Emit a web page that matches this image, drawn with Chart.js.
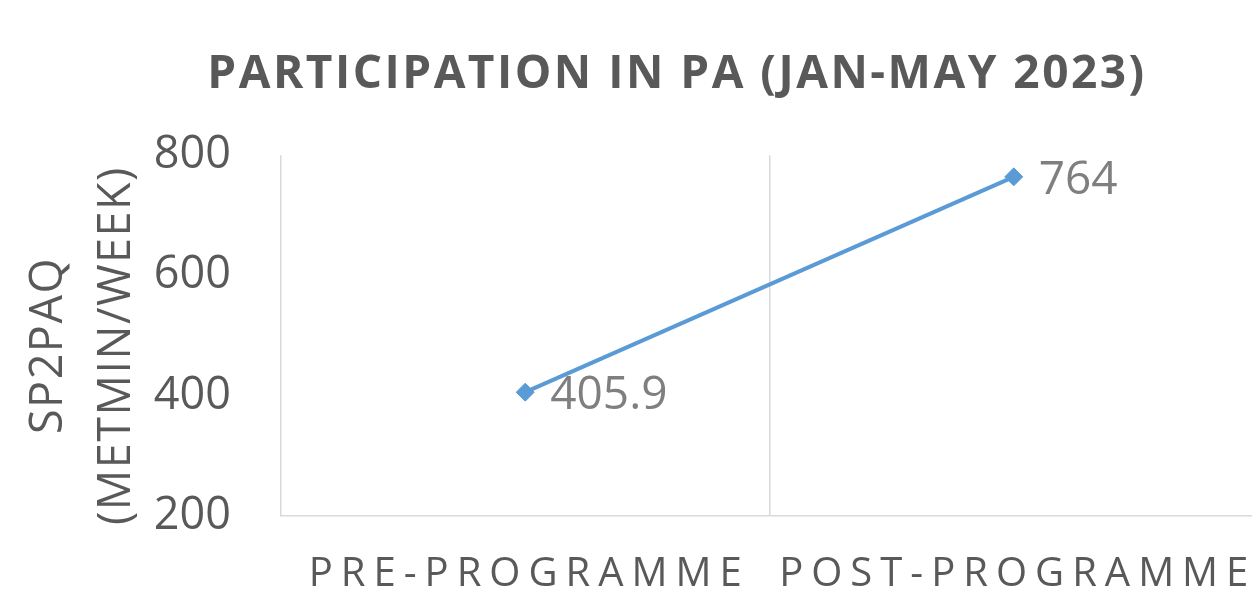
<!DOCTYPE html>
<html>
<head>
<meta charset="utf-8">
<script src="https://cdn.jsdelivr.net/npm/chart.js@4"></script>
<style>
html,body{margin:0;padding:0;background:#fff;overflow:hidden;}
#wrap{width:1258px;height:610px;position:relative;}
</style>
</head>
<body>
<div id="wrap"><canvas id="c"></canvas></div>
<script>
const categories = ["PRE-PROGRAMME", "POST-PROGRAMME"];
const seriesValues = [405.9, 764];
const dataLabels = ["405.9", "764"];
const yTicks = [200, 400, 600, 800];
const chartTitle = "PARTICIPATION IN PA (JAN-MAY 2023)";
const yTitle = ["SP2PAQ", "(METMIN/WEEK)"];

const FONT = "'Open Sans', 'Liberation Sans', sans-serif";

function withSpacing(obj, method, spacing, dx, dy) {
  const key = '_ls_' + method;
  if (obj[key]) return;
  const orig = obj[method];
  obj[method] = function (...args) {
    const ctx = this.ctx || this.chart.ctx;
    ctx.save();
    ctx.letterSpacing = spacing;
    ctx.translate(dx || 0, dy || 0);
    const r = orig.apply(this, args);
    ctx.restore();
    return r;
  };
  obj[key] = true;
}

const spacingPlugin = {
  id: 'letterSpacingPatch',
  beforeDraw(chart) {
    if (chart.titleBlock) withSpacing(chart.titleBlock, 'draw', '2.5px', 48, 0);
    if (chart.scales.x) withSpacing(chart.scales.x, 'drawLabels', '8px', 4, -2);
    if (chart.scales.y) withSpacing(chart.scales.y, 'drawTitle', '1.5px', 0, 10);
  }
};

const valueLabelPlugin = {
  id: 'valueLabels',
  afterDatasetsDraw(chart) {
    const ctx = chart.ctx;
    const meta = chart.getDatasetMeta(0);
    ctx.save();
    ctx.font = "46px " + FONT;
    ctx.fillStyle = "#7f7f7f";
    ctx.textAlign = "left";
    ctx.textBaseline = "middle";
    meta.data.forEach((pt, i) => {
      ctx.fillText(dataLabels[i], pt.x + 25, pt.y + 4);
    });
    ctx.restore();
  }
};

new Chart(document.getElementById('c'), {
  type: 'line',
  data: {
    labels: categories,
    datasets: [{
      data: seriesValues,
      borderColor: '#5B9BD5',
      backgroundColor: '#5B9BD5',
      borderWidth: 4,
      pointStyle: 'rectRot',
      pointRadius: 9,
      pointHoverRadius: 9,
      pointBorderWidth: 1,
      tension: 0,
      fill: false,
      clip: false
    }]
  },
  options: {
    responsive: true,
    maintainAspectRatio: false,
    animation: false,
    layout: { autoPadding: false, padding: { left: 0, right: 0, top: 0, bottom: 9 } },
    plugins: {
      legend: { display: false },
      tooltip: { enabled: false },
      title: {
        display: true,
        text: chartTitle,
        color: '#595959',
        font: { family: FONT, size: 46, weight: 'bold', lineHeight: 1.2 },
        padding: { top: 47, bottom: 53 }
      }
    },
    scales: {
      x: {
        offset: true,
        afterFit(scale) { scale.height = 85; },
        grid: { display: true, offset: true, color: '#d9d9d9', lineWidth: 1.5, drawTicks: false },
        border: { display: true, color: '#d9d9d9', width: 1.5 },
        ticks: {
          color: '#595959',
          font: { family: FONT, size: 40, lineHeight: 1.2 },
          padding: 37,
          maxRotation: 0,
          autoSkip: false
        }
      },
      y: {
        min: 200,
        max: 800,
        afterFit(scale) { scale.width = 281; },
        afterBuildTicks(scale) { scale.ticks = yTicks.map(v => ({ value: v })); },
        grid: { display: false, drawTicks: false },
        border: { display: false },
        ticks: {
          color: '#595959',
          font: { family: FONT, size: 45 },
          padding: 50
        },
        title: {
          display: true,
          text: yTitle,
          color: '#595959',
          font: { family: FONT, size: 45, lineHeight: 1.51 },
          padding: { top: 15, bottom: 3 }
        }
      }
    }
  },
  plugins: [spacingPlugin, valueLabelPlugin]
});
</script>
</body>
</html>
